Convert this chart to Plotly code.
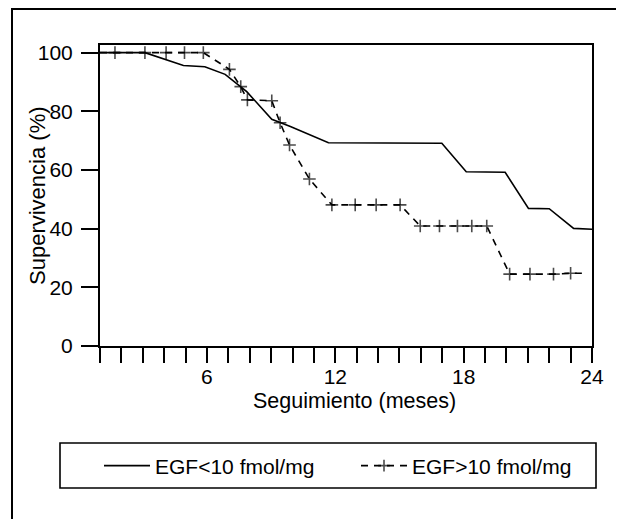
import plotly.graph_objects as go

# Follow-up (months) and survival (%)
low_x = [1, 3.1, 4.9, 5.9, 6.85, 7.86, 9.03, 9.9, 11.68, 16.98, 18.12, 19.94, 21.03, 22.0, 23.14, 24]
low_y = [100, 100, 95.6, 95.2, 92.6, 86.7, 77.3, 74.8, 69.3, 69.1, 59.4, 59.2, 46.9, 46.8, 40.1, 39.8]

high_x = [1, 1.7, 3.1, 4.09, 4.95, 5.83, 7.05, 7.58, 7.89, 9.03, 9.42, 9.86, 10.79,
          11.84, 12.93, 13.91, 15.03, 15.97, 16.87, 17.71, 18.38, 19.08,
          20.15, 21.1, 22.2, 23.0, 23.57]
high_y = [100, 100, 100, 100, 100, 100, 94.3, 88.4, 83.9, 83.6, 76.1, 68.5, 56.9,
          48.1, 48.1, 48.1, 48.1, 40.9, 40.9, 40.9, 40.9, 40.9,
          24.5, 24.5, 24.5, 24.8, 24.8]

low_name = "EGF<10 fmol/mg"
high_name = "EGF>10 fmol/mg"

x_tickvals = list(range(1, 25))
x_ticktext = [str(v) if v % 6 == 0 else "" for v in x_tickvals]
y_tickvals = [0, 20, 40, 60, 80, 100]

x_title = "Seguimiento (meses)"
y_title = "Supervivencia (%)"

FONT = "Liberation Sans, Arial, Helvetica, sans-serif"

# the page body has an 8px margin; work in page pixels and shift
OFF = 8
W, H = 624 - OFF, 519 - OFF
L, R, T, B = 100, 592, 45, 346          # plot area in page pixels
pw, ph = R - L, B - T


def px_x(p):
    return (p - L) / pw


def px_y(p):
    return (B - p) / ph


marker_sizes = [0] + [9] * (len(high_x) - 2) + [0]

fig = go.Figure()
fig.add_trace(go.Scatter(
    x=low_x, y=low_y, mode="lines", name=low_name,
    line=dict(color="black", width=1.6),
))
fig.add_trace(go.Scatter(
    x=high_x, y=high_y, mode="lines+markers", name=high_name,
    line=dict(color="black", width=1.6, dash="7px,6px"),
    marker=dict(symbol="cross-thin", size=marker_sizes, color="black",
                line=dict(color="black", width=1.6)),
))

shapes = [
    # outer frame
    dict(type="rect", xref="paper", yref="paper",
         x0=px_x(12), x1=px_x(621), y0=px_y(540), y1=px_y(OFF + 1),
         line=dict(color="black", width=2), fillcolor="rgba(0,0,0,0)", layer="below"),
    # legend box
    dict(type="rect", xref="paper", yref="paper",
         x0=px_x(60), x1=px_x(596), y0=px_y(488), y1=px_y(443),
         line=dict(color="black", width=1.6), fillcolor="rgba(0,0,0,0)", layer="below"),
]

annotations = [
    dict(text=y_title, xref="paper", yref="paper", x=px_x(37), y=px_y(196),
         xanchor="center", yanchor="middle", textangle=-90, showarrow=False,
         font=dict(size=22, family=FONT, color="black")),
    dict(text=x_title, xref="paper", yref="paper", x=px_x(354), y=px_y(401),
         xanchor="center", yanchor="middle", showarrow=False,
         font=dict(size=21.5, family=FONT, color="black")),
]

fig.update_layout(
    width=W, height=H,
    margin=dict(l=L - OFF, r=W - (R - OFF), t=T - OFF, b=H - (B - OFF), autoexpand=False),
    paper_bgcolor="white", plot_bgcolor="white",
    font=dict(family=FONT, color="black", size=20),
    showlegend=True,
    legend=dict(orientation="h", x=px_x(99), xanchor="left",
                y=px_y(466), yanchor="middle",
                font=dict(size=21, family=FONT), bgcolor="rgba(0,0,0,0)",
                entrywidth=196, entrywidthmode="pixels",
                itemwidth=46, tracegroupgap=0),
    shapes=shapes,
    annotations=annotations,
    xaxis=dict(range=[1, 24], tickmode="array", tickvals=x_tickvals, ticktext=x_ticktext,
               ticks="outside", ticklen=15, tickwidth=1.5, tickcolor="black",
               showline=True, linewidth=2, linecolor="black", mirror=True,
               showgrid=False, zeroline=False, tickfont=dict(size=21),
               ticklabelstandoff=-4),
    yaxis=dict(range=[0, 102.6], tickmode="array", tickvals=y_tickvals,
               ticks="outside", ticklen=17, tickwidth=1.5, tickcolor="black",
               showline=True, linewidth=2, linecolor="black", mirror=True,
               showgrid=False, zeroline=False, tickfont=dict(size=21),
               ticklabelstandoff=4),
)

fig.write_html("out.html")
